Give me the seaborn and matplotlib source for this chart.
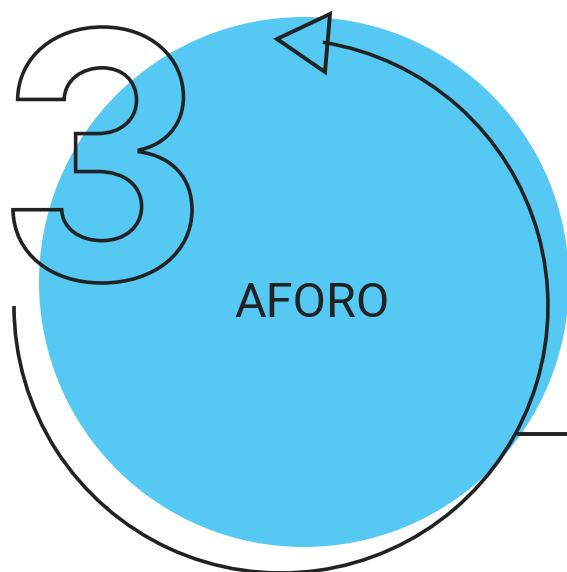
import numpy as np
import matplotlib
matplotlib.use("Agg")
import matplotlib.pyplot as plt
import seaborn as sns
from matplotlib.patches import Circle, Arc, Polygon, PathPatch
from matplotlib.textpath import TextPath
from matplotlib.font_manager import FontProperties
from matplotlib.transforms import Affine2D

# picture content (pixel space of the 567x572 canvas)
label = "AFORO"
step_number = "3"
circle_center = [304, 282]
circle_radius = 265
arc_center = [281, 306]
arc_radius = 267
arc_angles = [180, 441]          # degrees, counter-clockwise in screen-flipped axes
arrow_head = [[277, 39], [330, 14], [325, 72]]
right_rule_x = [518, 567]
right_rule_y = [434, 434]
digit_box = [13, 27, 192, 283]   # x0, y0, x1, y1

BLUE = "#55C8F4"
INK = "#222222"

sns.set_theme(style="white")
plt.rcParams['font.family'] = ['Roboto', 'DejaVu Sans']

fig = plt.figure(figsize=(5.67, 5.72), dpi=100)
ax = fig.add_axes([0, 0, 1, 1])
ax.set_xlim(0, 567)
ax.set_ylim(572, 0)
ax.set_aspect('equal')
ax.axis('off')

ax.add_patch(Circle(circle_center, circle_radius, facecolor=BLUE, edgecolor='none', zorder=1))

# Arc in an inverted y axis: angles measured with y down, so flip sign
ax.add_patch(Arc(arc_center, 2 * arc_radius, 2 * arc_radius,
                 theta1=-arc_angles[1], theta2=-arc_angles[0],
                 color=INK, lw=2.6, zorder=3))
ax.add_patch(Polygon(arrow_head, closed=True, facecolor='none', edgecolor=INK,
                     lw=2.8, joinstyle='miter', zorder=4))
sns.lineplot(x=right_rule_x, y=right_rule_y, color=INK, lw=2.8, ax=ax, zorder=3)

# outlined digit
fp = FontProperties(family='Inter', weight='bold')
tp = TextPath((0, 0), step_number, size=100, prop=fp)
ext = tp.get_extents()
x0, y0, x1, y1 = digit_box
sx = (x1 - x0) / ext.width
sy = (y1 - y0) / ext.height
tr = Affine2D().translate(-ext.x0, -ext.y1).scale(sx, -sy).translate(x0, y0)
ax.add_patch(PathPatch(tr.transform_path(tp), facecolor='none', edgecolor=INK,
                       lw=2.6, zorder=5))

ax.text(312, 304, label, ha='center', va='center', fontsize=35, color=INK,
        family=['Roboto', 'DejaVu Sans'], zorder=6)

fig.savefig("out.png", dpi=100)
